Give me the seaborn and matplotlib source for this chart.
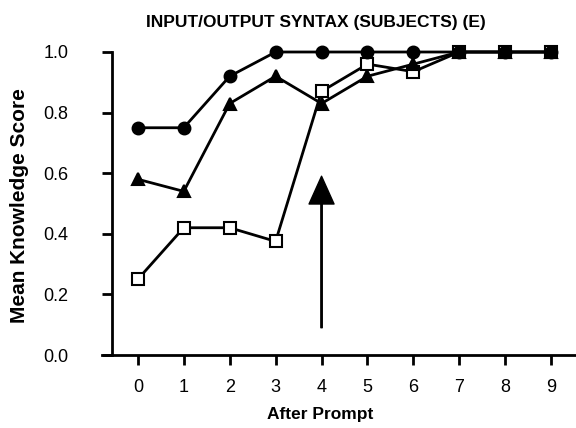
import matplotlib
matplotlib.use("Agg")
import matplotlib.pyplot as plt
import seaborn as sns
import pandas as pd
import numpy as np

prompts = [0, 1, 2, 3, 4, 5, 6, 7, 8, 9]
circles = [0.75, 0.75, 0.92, 1.0, 1.0, 1.0, 1.0, 1.0, 1.0, 1.0]
triangles = [0.58, 0.54, 0.83, 0.92, 0.83, 0.92, 0.96, 1.0, 1.0, 1.0]
squares = [0.25, 0.42, 0.42, 0.375, 0.87, 0.96, 0.935, 1.0, 1.0, 1.0]
y_ticks = [0.0, 0.2, 0.4, 0.6, 0.8, 1.0]
arrow_x = 4
arrow_start = 0.09
arrow_end = 0.59

title = "INPUT/OUTPUT SYNTAX (SUBJECTS) (E)"
xlabel = "After Prompt"
ylabel = "Mean Knowledge Score"

sns.set_theme(style="ticks")
plt.rcParams['font.family'] = ['Liberation Sans', 'DejaVu Sans']
plt.rcParams['text.color'] = 'black'

fig = plt.figure(figsize=(5.76, 4.28), dpi=100)
ax = fig.add_axes([102/576, 1-355/428, 474/576, (355-52)/428])

df = pd.DataFrame({"prompt": prompts * 3,
                   "score": circles + triangles + squares,
                   "series": ["circle"] * 10 + ["triangle"] * 10 + ["square"] * 10})

styles = {
    "square": dict(marker="s", mfc="white", z=2),
    "triangle": dict(marker="^", mfc="black", z=3),
    "circle": dict(marker="o", mfc="black", z=4),
}
for name, st in styles.items():
    sub = df[df.series == name]
    sns.lineplot(data=sub, x="prompt", y="score", ax=ax, color="black",
                 linewidth=2.0, marker=st["marker"], markersize=8.5,
                 markerfacecolor=st["mfc"], markeredgecolor="black",
                 markeredgewidth=1.5, clip_on=False, legend=False,
                 zorder=st["z"])

ax.annotate("", xy=(arrow_x, arrow_end), xytext=(arrow_x, arrow_start),
            arrowprops=dict(facecolor="black", edgecolor="black", width=1.0,
                            headwidth=18, headlength=20, shrink=0))

ax.set_xlim(-0.78, 9.54)
ax.set_ylim(0, 1.0)
ax.set_xticks(prompts)
ax.set_yticks(y_ticks)
ax.set_yticklabels([f"{v:.1f}" for v in y_ticks])
ax.spines['left'].set_position(('data', -0.57))
ax.spines['top'].set_visible(False)
ax.spines['right'].set_visible(False)
for s in ['left', 'bottom']:
    ax.spines[s].set_linewidth(2.0)
    ax.spines[s].set_color('black')
ax.tick_params(axis='both', direction='out', length=7, width=2.0, colors='black',
               labelcolor='black', labelsize=13)
ax.tick_params(axis='x', pad=10)
ax.tick_params(axis='y', pad=24)
ax.set_xlabel("")
ax.set_ylabel("")

fig.text(316/576, 1-22/428, title, ha='center', va='center', fontsize=12.5,
         fontweight='bold', color='black')
fig.text(320/576, 1-414/428, xlabel, ha='center', va='center', fontsize=12.5,
         fontweight='bold', color='black')
fig.text(20/576, 1-206/428, ylabel, ha='center', va='center', fontsize=15,
         fontweight='bold', rotation=90, color='black')

fig.savefig("out.png", dpi=100)
